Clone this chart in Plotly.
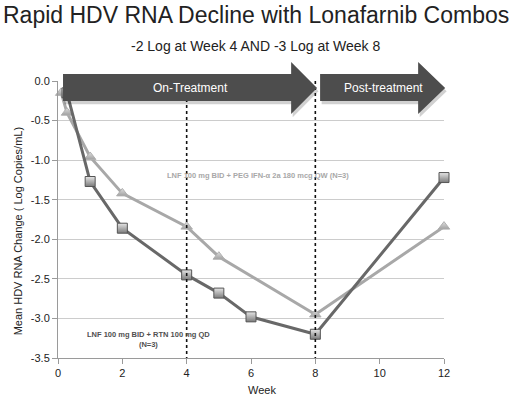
import plotly.graph_objects as go

# Data
weeks_rtn = [0.28, 1, 2, 4, 5, 6, 8, 12]
vals_rtn = [-0.15, -1.27, -1.86, -2.45, -2.68, -2.98, -3.20, -1.22]
weeks_peg = [0.1, 0.28, 1, 2, 4, 5, 8, 12]
vals_peg = [-0.15, -0.40, -0.96, -1.42, -1.84, -2.22, -2.95, -1.84]

x_ticks = [0, 2, 4, 6, 8, 10, 12]
y_ticks = [0.0, -0.5, -1.0, -1.5, -2.0, -2.5, -3.0, -3.5]
y_tick_labels = ["0.0", "-0.5", "-1.0", "-1.5", "-2.0", "-2.5", "-3.0", "-3.5"]
treatment_end_markers = [4, 8]

FONT = "Liberation Sans, Arial, Helvetica, sans-serif"

fig = go.Figure()

fig.add_trace(go.Scatter(
    x=weeks_peg, y=vals_peg, mode="lines+markers",
    line=dict(color="#a8a8a8", width=3),
    marker=dict(symbol="triangle-up", size=10, color="#e0e0e0",
                gradient=dict(type="vertical", color="#a0a0a0"),
                line=dict(color="#b0b0b0", width=1)),
    showlegend=False, cliponaxis=False))

fig.add_trace(go.Scatter(
    x=weeks_rtn, y=vals_rtn, mode="lines+markers",
    line=dict(color="#686868", width=3),
    marker=dict(symbol="square", size=10, color="#e6e6e6",
                gradient=dict(type="vertical", color="#7a7a7a"),
                line=dict(color="#555555", width=1)),
    showlegend=False, cliponaxis=False))

shapes = []
for wk in treatment_end_markers:
    shapes.append(dict(type="line", xref="x", yref="y", x0=wk, x1=wk, y0=0, y1=-3.5,
                       line=dict(color="#111111", width=1.6, dash="dot"), layer="above"))


def arrow(x0, xh, xt, yb0, yb1, yh0, yh1, ym):
    return (f"M {x0},{yb1} L {xh},{yb1} L {xh},{yh1} L {xt},{ym} L {xh},{yh0} "
            f"L {xh},{yb0} L {x0},{yb0} Z")

# shadow + arrows (paper coords)
for dx, dy, col in [(0.004, -0.012, "rgba(0,0,0,0.18)"), (0, 0, "#4d4d4d")]:
    shapes.append(dict(type="path", xref="paper", yref="paper", layer="above",
                       path=arrow(0.013 + dx, 0.604 + dx, 0.671 + dx, 0.928 + dy, 1.025 + dy,
                                  0.881 + dy, 1.069 + dy, 0.975 + dy),
                       fillcolor=col, line=dict(width=0)))
    shapes.append(dict(type="path", xref="paper", yref="paper", layer="above",
                       path=arrow(0.679 + dx, 0.933 + dx, 1.003 + dx, 0.928 + dy, 1.025 + dy,
                                  0.881 + dy, 1.069 + dy, 0.975 + dy),
                       fillcolor=col, line=dict(width=0)))

annotations = [
    dict(text="On-Treatment", xref="paper", yref="paper", x=0.342, y=0.975,
         xanchor="center", yanchor="middle",
         showarrow=False, font=dict(family=FONT, size=12, color="white")),
    dict(text="Post-treatment", xref="paper", yref="paper", x=0.842, y=0.975,
         xanchor="center", yanchor="middle",
         showarrow=False, font=dict(family=FONT, size=12, color="white")),
    dict(text="<b>LNF 100 mg BID + PEG IFN-α 2a 180 mcg QW (N=3)</b>", xref="x", yref="y",
         x=6.22, y=-1.19, xanchor="center", yanchor="middle", showarrow=False,
         font=dict(family=FONT, size=7.5, color="#a8a8a8")),
    dict(text="<b>LNF 100 mg BID + RTN 100 mg QD<br>(N=3)</b>", xref="x", yref="y",
         x=2.8, y=-3.26, xanchor="center", yanchor="middle", showarrow=False,
         font=dict(family=FONT, size=7.5, color="#505050")),
    dict(text="Rapid HDV RNA Decline with Lonafarnib Combos", xref="paper", yref="paper",
         x=0.513, y=1.0, yanchor="middle", xanchor="center",
         yshift=66, showarrow=False,
         font=dict(family=FONT, size=23, color="#222222")),
    dict(text="-2 Log at Week 4 AND -3 Log at Week 8", xref="paper", yref="paper",
         x=0.513, y=1.0, yanchor="middle", xanchor="center",
         yshift=35, showarrow=False,
         font=dict(family=FONT, size=14, color="#222222")),
    dict(text="Mean HDV RNA Change ( Log Copies/mL)", xref="paper", yref="y",
         x=0, xshift=-40, y=-1.9, textangle=-90, xanchor="center", yanchor="middle",
         showarrow=False, font=dict(family=FONT, size=11, color="#222222")),
    dict(text="Week", xref="paper", yref="paper", x=0.528, y=0, yshift=-32,
         xanchor="center", yanchor="middle",
         showarrow=False, font=dict(family=FONT, size=11, color="#222222")),
]

fig.update_layout(
    width=514, height=395,
    margin=dict(l=58, r=70, t=81, b=37, autoexpand=False),
    paper_bgcolor="white", plot_bgcolor="white",
    shapes=shapes, annotations=annotations,
    font=dict(family=FONT, size=11, color="#222222"),
    xaxis=dict(range=[0, 12], tickvals=x_ticks, showgrid=False, zeroline=False,
               showline=True, linecolor="#9a9a9a", linewidth=1, automargin=False,
               ticks="outside", ticklen=5, tickcolor="#9a9a9a",
               tickfont=dict(size=11)),
    yaxis=dict(range=[-3.5, 0], tickvals=y_ticks, ticktext=y_tick_labels,
               showgrid=True, gridcolor="#cccccc", gridwidth=1, zeroline=False,
               showline=True, linecolor="#9a9a9a", linewidth=1, automargin=False,
               ticks="outside", ticklen=5, tickcolor="#9a9a9a",
               tickfont=dict(size=11)),
)

fig.write_html("out.html", config={"displayModeBar": False},
               post_script="document.body.style.margin='0px';")
